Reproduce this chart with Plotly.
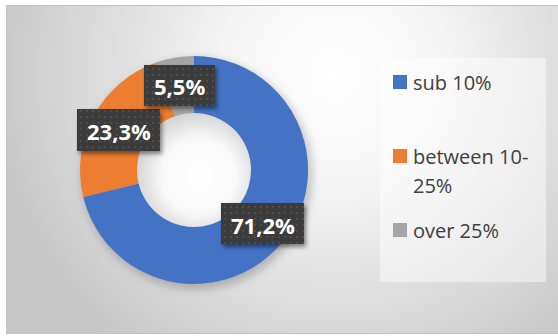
import base64
import plotly.graph_objects as go

# Share of respondents per band
categories = ["sub 10%", "between 10-25%", "over 25%"]
values = [71.2, 23.3, 5.5]
colors = ["#4472C4", "#ED7D31", "#A5A5A5"]
legend_lines = [["sub 10%"], ["between 10-", "25%"], ["over 25%"]]

W, H = 558, 336
CX, CY, R = 194, 170, 114  # donut centre and outer radius (px)

# Value label boxes (x0, y0, x1, y1) in px, one per slice
label_boxes = [(221, 203, 304, 244), (77, 109, 160, 151), (144, 65, 215, 106)]


def px(x):
    return x / W


def py(y):
    return 1 - y / H


def svg_uri(svg):
    return "data:image/svg+xml;base64," + base64.b64encode(svg.encode()).decode()


# Backdrop: frame, radial gradient, donut shadow and shaded hole
bg_svg = f"""<svg xmlns='http://www.w3.org/2000/svg' width='{W}' height='{H}' viewBox='0 0 {W} {H}'>
<defs>
<radialGradient id='bg' gradientUnits='userSpaceOnUse' cx='335' cy='75' r='345'>
<stop offset='0' stop-color='#ffffff'/><stop offset='0.3' stop-color='#f6f6f6'/>
<stop offset='1' stop-color='#c7c7c7'/></radialGradient>
<radialGradient id='hole' gradientUnits='userSpaceOnUse' cx='{CX+5}' cy='{CY+6}' r='62'>
<stop offset='0' stop-color='#ffffff'/><stop offset='0.6' stop-color='#f9f9f9'/>
<stop offset='1' stop-color='#d6d6d6'/></radialGradient>
<filter id='blur' x='-30%' y='-30%' width='160%' height='160%'><feGaussianBlur stdDeviation='5'/></filter>
</defs>
<rect width='{W}' height='{H}' fill='#ffffff'/>
<rect x='6' y='5' width='{W-6}' height='329' fill='#c2c2c2'/>
<rect x='7' y='6' width='{W-7}' height='327' fill='url(#bg)'/>
<circle cx='{CX+3}' cy='{CY+4}' r='{R+1}' fill='#000' fill-opacity='0.22' filter='url(#blur)'/>
<circle cx='{CX}' cy='{CY}' r='{R/2+1}' fill='url(#hole)'/>
</svg>"""

# Dark dotted label boxes with a drop shadow
box_parts = []
for (x0, y0, x1, y1) in label_boxes:
    box_parts.append(
        f"<rect x='{x0+2}' y='{y0+3}' width='{x1-x0}' height='{y1-y0}' fill='#000' "
        f"fill-opacity='0.45' filter='url(#sh)'/>"
        f"<rect x='{x0}' y='{y0}' width='{x1-x0}' height='{y1-y0}' fill='url(#dots)'/>"
    )
box_svg = f"""<svg xmlns='http://www.w3.org/2000/svg' width='{W}' height='{H}' viewBox='0 0 {W} {H}'>
<defs>
<pattern id='dots' patternUnits='userSpaceOnUse' width='6' height='6'>
<rect width='6' height='6' fill='#3b3b3b'/><circle cx='3' cy='3' r='0.9' fill='#555555'/></pattern>
<filter id='sh' x='-20%' y='-30%' width='140%' height='160%'><feGaussianBlur stdDeviation='2'/></filter>
</defs>
{''.join(box_parts)}
</svg>"""

fig = go.Figure(
    go.Pie(
        labels=categories,
        values=values,
        hole=0.5,
        sort=False,
        direction="clockwise",
        rotation=0,
        marker=dict(colors=colors, line=dict(width=0)),
        textinfo="none",
        hoverinfo="skip",
        showlegend=False,
        domain=dict(x=[px(CX - R), px(CX + R)], y=[py(CY + R), py(CY - R)]),
    )
)

annotations = []
for v, (x0, y0, x1, y1) in zip(values, label_boxes):
    annotations.append(dict(
        text=f"{v:.1f}%".replace(".", ","),
        x=px((x0 + x1) / 2), y=py((y0 + y1) / 2 + 1),
        xref="paper", yref="paper", xanchor="center", yanchor="middle",
        showarrow=False,
        font=dict(family="Open Sans", size=22, color="#ffffff", weight="bold"),
    ))

# Legend: panel, swatches and labels
shapes = [dict(type="rect", xref="paper", yref="paper",
               x0=px(380), x1=px(546), y0=py(282), y1=py(58),
               fillcolor="rgba(255,255,255,0.45)", line=dict(width=0), layer="below")]
swatch_y = [82, 156, 230]
for color, lines, sy in zip(colors, legend_lines, swatch_y):
    shapes.append(dict(type="rect", xref="paper", yref="paper",
                       x0=px(393), x1=px(407), y0=py(sy + 7), y1=py(sy - 7),
                       fillcolor=color, line=dict(width=0)))
    for i, line in enumerate(lines):
        annotations.append(dict(
            text=line, x=px(411), y=py(sy + i * 29),
            xref="paper", yref="paper", xanchor="left", yanchor="middle",
            showarrow=False,
            font=dict(family="Open Sans", size=20, color="#404040"),
        ))

fig.update_layout(
    width=W, height=H,
    margin=dict(l=0, r=0, t=0, b=0),
    paper_bgcolor="rgba(0,0,0,0)",
    plot_bgcolor="rgba(0,0,0,0)",
    shapes=shapes,
    annotations=annotations,
    images=[
        dict(source=svg_uri(bg_svg), xref="paper", yref="paper", x=0, y=1,
             sizex=1, sizey=1, sizing="stretch", xanchor="left", yanchor="top",
             layer="below"),
        dict(source=svg_uri(box_svg), xref="paper", yref="paper", x=0, y=1,
             sizex=1, sizey=1, sizing="stretch", xanchor="left", yanchor="top",
             layer="above"),
    ],
)

fig.write_html("out.html", config={"displayModeBar": False})
